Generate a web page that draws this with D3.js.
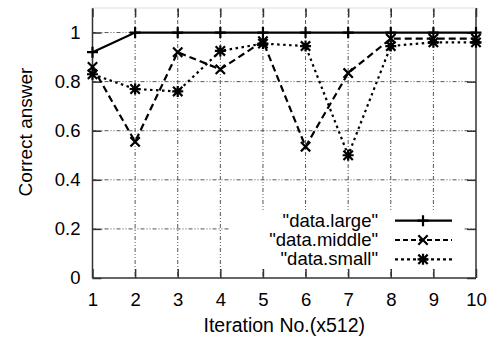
<!DOCTYPE html>
<html>
<head>
<meta charset="utf-8">
<script src="https://cdn.jsdelivr.net/npm/d3@7/dist/d3.min.js"></script>
<style>
  html, body { margin: 0; padding: 0; background: #fff; }
  svg { display: block; font-family: "Liberation Sans", Arial, Helvetica, sans-serif; }
</style>
</head>
<body>
<svg id="chart" width="500" height="339"></svg>
<script>
// Iteration counts (in units of 512) and accuracy of each data set
const iterations = [1, 2, 3, 4, 5, 6, 7, 8, 9, 10];
const dataLarge  = [0.92, 1, 1, 1, 1, 1, 1, 1, 1, 1];
const dataMiddle = [0.86, 0.555, 0.92, 0.85, 0.965, 0.535, 0.835, 0.975, 0.975, 0.975];
const dataSmall  = [0.83, 0.77, 0.76, 0.925, 0.955, 0.945, 0.50, 0.945, 0.96, 0.96];

const yTicks = [0, 0.2, 0.4, 0.6, 0.8, 1];
const yTickLabels = ["0", "0.2", "0.4", "0.6", "0.8", "1"];
const xTicks = iterations;

const seriesNames = ['"data.large"', '"data.middle"', '"data.small"'];

const svg = d3.select("#chart");
const plotLeft = 92.5, plotRight = 476, plotTop = 8, plotBottom = 278;

const x = d3.scaleLinear().domain([1, 10]).range([plotLeft, plotRight]);
const y = d3.scaleLinear().domain([0, 1.1]).range([plotBottom, plotTop]);

const gridColor = "#555";
const gridDash = "4,2,1,2,1,2";

// Grid
const grid = svg.append("g");
grid.selectAll("line.gx").data(xTicks.slice(1, -1)).join("line")
  .attr("x1", d => x(d)).attr("x2", d => x(d))
  .attr("y1", plotTop).attr("y2", plotBottom)
  .attr("stroke", gridColor).attr("stroke-width", 1)
  .attr("stroke-dasharray", gridDash);
grid.selectAll("line.gy").data(yTicks.slice(1)).join("line")
  .attr("x1", plotLeft).attr("x2", plotRight)
  .attr("y1", d => y(d)).attr("y2", d => y(d))
  .attr("stroke", gridColor).attr("stroke-width", 1)
  .attr("stroke-dasharray", gridDash);

// Legend area hides the grid behind it
svg.append("rect")
  .attr("x", 230).attr("y", 211).attr("width", 233).attr("height", 58)
  .attr("fill", "#fff");

// Axes with inward ticks on all four sides
const tickLen = 9;
const axisColor = "#333";
const bottomAxis = d3.axisBottom(x).tickValues(xTicks).tickSize(-tickLen).tickPadding(15).tickFormat(d3.format("d"));
const leftAxis = d3.axisLeft(y).tickValues(yTicks).tickSize(-tickLen).tickPadding(12).tickFormat((d, i) => yTickLabels[i]);
const topAxis = d3.axisTop(x).tickValues(xTicks).tickSize(-tickLen).tickFormat("");
const rightAxis = d3.axisRight(y).tickValues(yTicks).tickSize(-tickLen).tickFormat("");

function styleAxis(g) {
  g.select(".domain").remove();
  g.selectAll(".tick line").attr("stroke", axisColor).attr("stroke-width", 1.5);
  g.selectAll(".tick text").attr("fill", "#000").style("font-size", "18.5px")
    .style("font-family", '"Liberation Sans", Arial, sans-serif');
}
svg.append("g").attr("transform", `translate(0,${plotBottom})`).call(bottomAxis).call(styleAxis);
svg.append("g").attr("transform", `translate(${plotLeft},0)`).call(leftAxis).call(styleAxis);
svg.append("g").attr("transform", `translate(0,${plotTop})`).call(topAxis).call(styleAxis);
svg.append("g").attr("transform", `translate(${plotRight},0)`).call(rightAxis).call(styleAxis);

// Border
svg.append("line").attr("x1", plotLeft).attr("x2", plotLeft).attr("y1", plotTop).attr("y2", plotBottom)
  .attr("stroke", axisColor).attr("stroke-width", 1.5);
svg.append("line").attr("x1", plotLeft).attr("x2", plotRight).attr("y1", plotBottom).attr("y2", plotBottom)
  .attr("stroke", axisColor).attr("stroke-width", 1.5);
svg.append("line").attr("x1", plotRight).attr("x2", plotRight).attr("y1", plotTop).attr("y2", plotBottom)
  .attr("stroke", axisColor).attr("stroke-width", 1.5);
svg.append("line").attr("x1", plotLeft).attr("x2", plotRight).attr("y1", plotTop).attr("y2", plotTop)
  .attr("stroke", "#ddd").attr("stroke-width", 1);

// Axis titles
svg.append("text")
  .attr("x", (plotLeft + plotRight) / 2).attr("y", 332)
  .attr("text-anchor", "middle")
  .style("font-size", "19.5px")
  .text("Iteration No.(x512)");
svg.append("text")
  .attr("transform", "translate(32,132) rotate(-90)")
  .attr("text-anchor", "middle")
  .style("font-size", "19px")
  .text("Correct answer");

// Marker shapes
const ms = 5.5;
function plusPath(cx, cy) {
  return `M${cx - ms},${cy}H${cx + ms}M${cx},${cy - ms}V${cy + ms}`;
}
function crossPath(cx, cy) {
  const s = ms * 0.85;
  return `M${cx - s},${cy - s}L${cx + s},${cy + s}M${cx - s},${cy + s}L${cx + s},${cy - s}`;
}
function starPath(cx, cy) {
  return plusPath(cx, cy) + crossPath(cx, cy);
}

const series = [
  { name: seriesNames[0], values: dataLarge,  dash: null,  marker: plusPath },
  { name: seriesNames[1], values: dataMiddle, dash: "7,4", marker: crossPath },
  { name: seriesNames[2], values: dataSmall,  dash: "2.5,3.5", marker: starPath }
];

const line = d3.line().x(d => x(d[0])).y(d => y(d[1]));

series.forEach(s => {
  const pts = iterations.map((it, i) => [it, s.values[i]]);
  const g = svg.append("g");
  g.append("path")
    .attr("d", line(pts))
    .attr("fill", "none").attr("stroke", "#000").attr("stroke-width", 2.2)
    .attr("stroke-dasharray", s.dash);
  g.selectAll("path.m").data(pts).join("path")
    .attr("d", d => s.marker(x(d[0]), y(d[1])))
    .attr("fill", "none").attr("stroke", "#000").attr("stroke-width", 2.2);
});

// Legend
const legendRows = [220.7, 240, 259.3];
series.forEach((s, i) => {
  const ly = legendRows[i];
  svg.append("text")
    .attr("x", 378).attr("y", ly + 6)
    .attr("text-anchor", "end")
    .style("font-size", "18.5px")
    .text(s.name);
  svg.append("line")
    .attr("x1", 395).attr("x2", 452).attr("y1", ly).attr("y2", ly)
    .attr("stroke", "#000").attr("stroke-width", 2.2)
    .attr("stroke-dasharray", s.dash ? (i === 1 ? "5,3" : "3,3") : null);
  svg.append("path")
    .attr("d", s.marker(423, ly))
    .attr("fill", "none").attr("stroke", "#000").attr("stroke-width", 2.2);
});
</script>
</body>
</html>
